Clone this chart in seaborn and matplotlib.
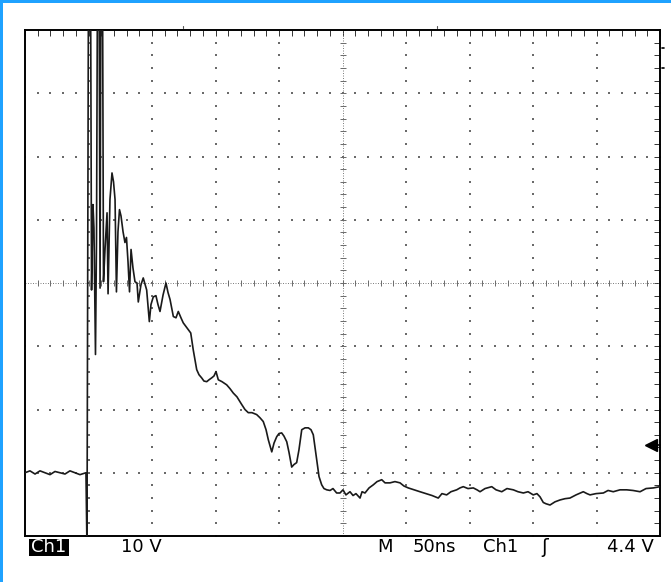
import numpy as np
import pandas as pd
import matplotlib
matplotlib.use("Agg")
import matplotlib.pyplot as plt
import matplotlib.transforms as mtransforms
from matplotlib.patches import Rectangle
from matplotlib.lines import Line2D
import seaborn as sns

# ---- data (time in ns, 50 ns/div; voltage in V, 10 V/div, ground at 0 V) ----
time_ns = [0, 3.9, 7.9, 11.8, 15.7, 19.7, 23.6, 27.6, 31.5, 35.4, 39.4, 43.3, 48.0,
           48.8, 50.0, 51.6, 52.4, 53.5, 54.3, 55.5, 56.3, 57.1, 58.3, 59.1, 59.8,
           61.0, 61.8, 63.0, 64.6, 65.4, 66.9, 68.5, 69.7, 70.9, 72.0, 73.2, 74.4,
           75.6, 77.2, 78.7, 79.9, 81.1, 82.3, 83.5, 85.0, 86.6, 88.2, 89.2, 91.3,
           93.1, 95.8, 97.9, 99.2, 101.0, 103.1, 104.7, 106.3, 108.7, 111.0, 112.6,
           114.2, 116.8, 118.9, 120.7, 122.8, 124.6, 126.8, 128.6, 130.5, 132.5,
           135.2, 137.0, 139.1, 140.9, 143.1, 144.9, 147.0, 148.8, 150.4, 152.2,
           155.1, 158.8, 161.4, 164.0, 166.9, 170.6, 173.2, 175.8, 178.7, 182.4,
           185.0, 187.6, 189.8, 191.6, 194.3, 196.1, 198.2, 200.0, 202.1, 203.9,
           206.1, 207.9, 210.0, 211.8, 213.9, 215.7, 217.9, 220.5, 223.1, 225.2,
           227.0, 229.7, 231.5, 233.6, 235.4, 237.6, 240.2, 242.5, 245.4, 248.0,
           250.4, 252.7, 255.9, 258.3, 260.6, 263.8, 265.4, 267.7, 270.9, 274.3,
           277.2, 280.9, 283.5, 287.4, 291.3, 295.3, 298.4, 301.8, 306.3, 311.0,
           315.8, 320.5, 325.4, 328.3, 332.0, 335.4, 339.9, 342.5, 345.1, 348.8,
           353.0, 355.9, 358.3, 362.2, 367.5, 370.9, 375.4, 379.5, 384.5, 388.2,
           392.4, 396.1, 400.2, 403.1, 405.5, 408.1, 410.2, 413.4, 417.3, 421.3,
           425.2, 429.1, 433.9, 439.6, 442.5, 444.9, 449.6, 455.4, 459.1, 463.2,
           468.5, 473.8, 478.7, 484.3, 489.0, 494.7, 500.0]
voltage_v = [0.0, 0.3, -0.2, 0.3, 0.0, -0.3, 0.2, 0.0, -0.2, 0.3, 0.0, -0.3, 0.0,
             -12.0, 80.0, 80.0, 28.9, 42.4, 38.7, 18.7, 36.8, 80.0, 80.0, 29.2, 80.0,
             80.0, 30.2, 35.3, 41.1, 28.3, 43.2, 47.4, 46.0, 43.2, 28.6, 38.1, 41.6,
             40.6, 38.1, 36.4, 37.2, 33.4, 28.6, 35.3, 32.4, 30.2, 30.0, 27.0, 29.7,
             30.8, 28.9, 23.9, 26.6, 27.8, 28.0, 26.6, 25.5, 28.1, 30.0, 28.5,
             27.4, 24.7, 24.5, 25.5, 24.5, 23.7, 23.1, 22.6, 22.1, 19.4,
             16.3, 15.5, 15.0, 14.5, 14.4, 14.7, 15.0, 15.3, 16.0, 14.7,
             14.4, 13.9, 13.3, 12.6, 12.0, 10.8, 10.0, 9.5, 9.5, 9.2,
             8.7, 8.1, 6.8, 5.2, 3.3, 4.7, 5.7, 6.2, 6.3, 5.8,
             4.9, 3.2, 0.9, 1.3, 1.6, 3.6, 6.8, 7.1, 7.1, 6.8,
             6.0, 2.1, -0.6, -1.9, -2.5, -2.7, -2.8, -2.5, -3.2, -3.2,
             -2.7, -3.5, -3.0, -3.6, -3.3, -4.0, -3.0, -3.2, -2.4, -1.9,
             -1.4, -1.1, -1.6, -1.6, -1.4, -1.6, -2.1, -2.4, -2.7, -3.0,
             -3.3, -3.6, -4.0, -3.3, -3.5, -3.0, -2.7, -2.4, -2.2, -2.5,
             -2.4, -2.7, -3.0, -2.5, -2.2, -2.7, -3.0, -2.5, -2.7, -3.0,
             -3.2, -3.0, -3.5, -3.3, -3.8, -4.7, -4.9, -5.1, -4.6, -4.3,
             -4.1, -4.0, -3.5, -3.0, -3.3, -3.5, -3.3, -3.2, -2.8, -3.0,
             -2.7, -2.7, -2.8, -3.0, -2.5, -2.4, -2.2]

channel_label = "Ch1"
volts_per_div = "10 V"
time_per_div = "50ns"
trigger_source = "Ch1"
trigger_level_v = 4.4
trigger_label = "4.4 V"

t_min, t_max = 0, 500
v_min, v_max = -10, 70

# ---- figure ----
sns.set_style("white")
plt.rcParams["font.family"] = ["DejaVu Sans"]

W, H = 671, 582
fig = plt.figure(figsize=(W / 100, H / 100), dpi=100)
fig.patch.set_facecolor("white")

def fx(px):
    return px / W

def fy(py):
    return 1 - py / H

ax = fig.add_axes([fx(25), fy(536), (660 - 25) / W, (536 - 30) / H])
ax.set_xlim(t_min, t_max)
ax.set_ylim(v_min, v_max)

# graticule dots
gcol = "#6a6a6a"
xs_major = [50 * i for i in range(1, 10) if i != 5]
ys_major = [v_min + 10 * j for j in range(1, 8) if j != 4]
minor_t = np.arange(t_min, t_max + 0.1, 10)
minor_v = np.arange(v_min, v_max + 0.1, 2)
for xm in xs_major:
    ax.scatter(np.full(len(minor_v), xm), minor_v, s=1.3, marker="s", color=gcol, linewidths=0, zorder=1)
for ym in ys_major:
    ax.scatter(minor_t, np.full(len(minor_t), ym), s=1.3, marker="s", color=gcol, linewidths=0, zorder=1)

# center lines
ax.axvline(250, color=gcol, lw=0.6, linestyle=(0, (1.2, 1.8)), zorder=1)
ax.axhline(30, color=gcol, lw=0.6, linestyle=(0, (1.2, 1.8)), zorder=1)
ax.plot(minor_t, np.full(len(minor_t), 30), linestyle="none", marker="|", markersize=5,
        markeredgewidth=0.7, color=gcol, zorder=1)
ax.plot(np.full(len(minor_v), 250), minor_v, linestyle="none", marker="_", markersize=5,
        markeredgewidth=0.7, color=gcol, zorder=1)

# border ticks
ax.set_xticks(minor_t)
ax.set_yticks(minor_v)
ax.tick_params(direction="in", length=4, width=0.7, color="#333333", top=True, right=True,
               labelbottom=False, labelleft=False, labeltop=False, labelright=False)
for sp in ax.spines.values():
    sp.set_color("black")
    sp.set_linewidth(1.4)
ax.set_xlabel("")
ax.set_ylabel("")

# waveform
df = pd.DataFrame({"t": time_ns, "v": voltage_v})
sns.lineplot(data=df, x="t", y="v", sort=False, estimator=None, color="#1a1a1a",
             linewidth=1.2, ax=ax, zorder=3)
ax.set_xlabel("")
ax.set_ylabel("")

# trigger level marker on right edge
blend = mtransforms.blended_transform_factory(ax.transAxes, ax.transData)
ax.plot([0.986], [trigger_level_v], marker="<", markersize=8, color="black",
        transform=blend, clip_on=False, zorder=4)
ax.plot([0.986, 1.0], [trigger_level_v, trigger_level_v], color="black", lw=1.2,
        transform=blend, clip_on=False, zorder=4)

# small marks outside the graticule
for px in (183, 437):
    fig.add_artist(Line2D([fx(px), fx(px)], [fy(26), fy(28)], color="#555555", lw=0.8))
for py in (48, 68):
    fig.add_artist(Line2D([fx(662), fx(664)], [fy(py), fy(py)], color="black", lw=1.2))

# bottom readout
fs = 13
fig.add_artist(Rectangle((fx(29), fy(556)), (69 - 29) / W, (556 - 539) / H,
                         facecolor="black", edgecolor="none", transform=fig.transFigure))
fig.text(fx(49), fy(547.5), channel_label, color="white", ha="center", va="center", fontsize=fs)
fig.text(fx(121), fy(547.5), volts_per_div, color="black", ha="left", va="center", fontsize=fs)
fig.text(fx(377), fy(547.5), "M", color="black", ha="left", va="center", fontsize=fs)
fig.text(fx(413), fy(547.5), time_per_div, color="black", ha="left", va="center", fontsize=fs)
fig.text(fx(483), fy(547.5), trigger_source, color="black", ha="left", va="center", fontsize=fs)
fig.text(fx(545), fy(547.5), "\u0283", color="black", ha="center", va="center", fontsize=fs + 1)
fig.text(fx(654), fy(547.5), trigger_label, color="black", ha="right", va="center", fontsize=fs)

# blue frame (top and left)
blue = "#1fa2ff"
fig.add_artist(Rectangle((0, 0), 3 / W, 1, facecolor=blue, edgecolor="none", transform=fig.transFigure))
fig.add_artist(Rectangle((0, 1 - 3 / H), 1, 3 / H, facecolor=blue, edgecolor="none", transform=fig.transFigure))

fig.savefig("out.png", dpi=100)
